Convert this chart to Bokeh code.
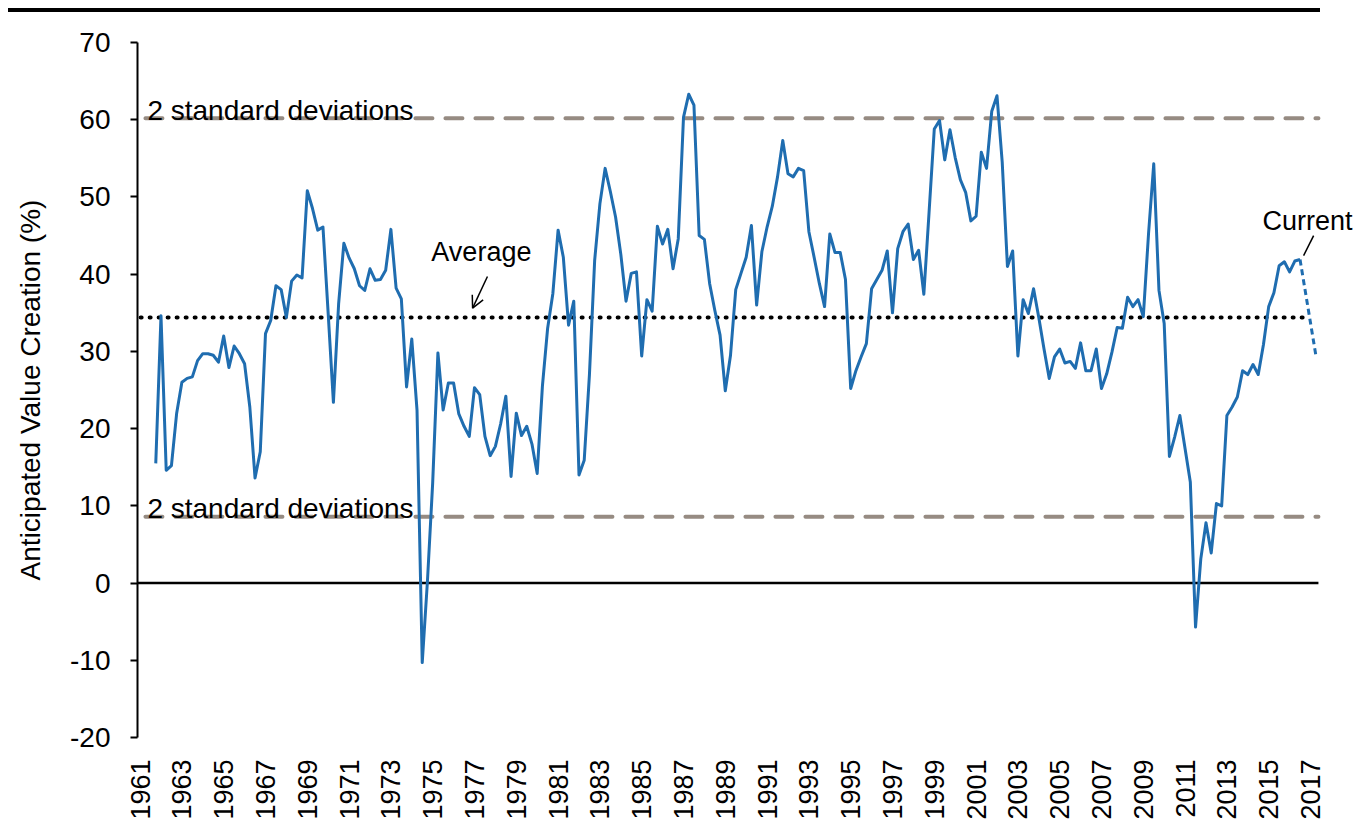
import math
import pandas as pd
from bokeh.plotting import figure
from bokeh.layouts import column, row
from bokeh.models import (Range1d, FixedTicker, Label, Arrow, OpenHead, PrintfTickFormatter,
                          Spacer, Div)
from bokeh.embed import file_html
from bokeh.resources import INLINE

# ---------------- data ----------------
values = [15.5, 34.6, 14.6, 15.2, 22.0, 26.0, 26.5, 26.7, 28.8, 29.7, 29.7, 29.5, 28.6, 32.0, 27.9,
          30.7, 29.7, 28.4, 22.8, 13.6, 17.0, 32.3, 34.0, 38.5, 38.0, 34.4, 39.1, 39.9, 39.5, 50.8,
          48.5, 45.7, 46.1, 34.9, 23.4, 36.2, 44.0, 42.1, 40.7, 38.5, 37.9, 40.7, 39.2, 39.3, 40.5,
          45.8, 38.2, 36.8, 25.4, 31.6, 22.4, -10.3, 0.3, 13.0, 29.8, 22.4, 25.9, 25.9, 21.9, 20.3,
          19.0, 25.3, 24.4, 19.0, 16.5, 17.7, 20.6, 24.2, 13.8, 22.0, 19.1, 20.3, 18.0, 14.2, 25.5,
          33.0, 37.5, 45.7, 42.2, 33.4, 36.5, 14.0, 15.9, 27.0, 41.8, 49.1, 53.7, 50.7, 47.4, 42.6,
          36.5, 40.1, 40.3, 29.4, 36.7, 35.2, 46.2, 43.9, 45.8, 40.7, 44.6, 60.3, 63.3, 61.9, 45.0,
          44.5, 38.8, 35.3, 32.1, 24.9, 29.5, 38.0, 40.1, 42.2, 46.3, 36.0, 42.9, 46.1, 48.8, 52.6,
          57.3, 53.0, 52.6, 53.7, 53.4, 45.5, 42.2, 38.8, 35.8, 45.2, 42.8, 42.8, 39.3, 25.2, 27.5,
          29.3, 31.0, 38.1, 39.3, 40.5, 43.0, 35.0, 43.3, 45.5, 46.5, 41.9, 43.1, 37.4, 48.0, 58.8,
          59.9, 54.8, 58.7, 55.1, 52.2, 50.6, 46.9, 47.5, 55.8, 53.7, 61.1, 63.1, 54.5, 41.0, 43.0,
          29.4, 36.7, 34.9, 38.1, 34.4, 30.3, 26.5, 29.3, 30.3, 28.5, 28.7, 27.8, 31.1, 27.5, 27.5,
          30.3, 25.2, 27.1, 29.9, 33.1, 33.0, 37.0, 35.8, 36.7, 34.5, 45.2, 54.3, 37.9, 33.6, 16.4,
          18.9, 21.7, 17.4, 13.1, -5.7, 3.1, 7.8, 3.9, 10.3, 10.0, 21.7, 22.8, 24.1, 27.5, 27.0,
          28.3, 27.0, 30.9, 35.8, 37.6, 41.1, 41.6, 40.3, 41.7, 41.9]
first_quarter = "1961Q4"
forecast_values = [41.9, 29.6]
forecast_quarters_ahead = 3

average = 34.4
upper_2sd = 60.2
lower_2sd = 8.6

year_ticks = list(range(1961, 2018, 2))
y_ticks = list(range(-20, 71, 10))

# quarterly dates as decimal years
periods = pd.period_range(first_quarter, periods=len(values), freq="Q")
dates = [p.year + (p.quarter - 1) / 4 for p in periods]
fc_dates = [dates[-1], dates[-1] + forecast_quarters_ahead / 4]

FONT = "Liberation Sans"
BLUE = "#1f6db0"
GREY = "#968b82"

X0 = 1960.876                   # x range start (frame left)
X1 = X0 + 1220 / 20.9           # x range end (frame right)
LINE_END = 2017.38              # where the horizontal reference lines stop

# ---------------- top rule ----------------
rule = Div(text="", width=1312, height=4, margin=(0, 0, 0, 0),
           styles={"background-color": "black", "width": "1312px", "height": "4px"})

# ---------------- main chart ----------------
p = figure(width=1357, height=815, toolbar_location=None, output_backend="svg",
           x_range=Range1d(X0, X1), y_range=Range1d(-20, 70),
           min_border_left=137, min_border_right=0, min_border_top=30, min_border_bottom=90)
p.outline_line_color = None
p.grid.visible = False
p.background_fill_color = "white"

# reference lines
p.segment(x0=[X0], x1=[LINE_END], y0=[0], y1=[0], line_color="black", line_width=2.5)
for yv in (upper_2sd, lower_2sd):
    p.segment(x0=[X0 + 0.38], x1=[LINE_END], y0=[yv], y1=[yv], line_color=GREY,
              line_width=4, line_dash="17 13", line_cap="round")
p.segment(x0=[X0 + 0.15], x1=[2016.9], y0=[average], y1=[average], line_color="black",
          line_width=4, line_dash="1 8", line_cap="round")

# data
p.line(dates, values, line_color=BLUE, line_width=3, line_join="round")
p.line(fc_dates, forecast_values, line_color=BLUE, line_width=3, line_dash="6 4")

# annotations
for yv in (61.25, 9.65):
    p.add_layout(Label(x=1961.35, y=yv, text="2 standard deviations", text_font=FONT,
                       text_font_size="28px", text_color="black", text_baseline="alphabetic"))
p.add_layout(Label(x=1977.33, y=42.9, text="Average", text_font=FONT, text_font_size="27px",
                   text_color="black", text_align="center", text_baseline="middle"))
p.add_layout(Arrow(end=OpenHead(size=12, line_width=1.5, line_color="black"),
                   x_start=1977.62, y_start=39.7, x_end=1976.91, y_end=35.6,
                   line_width=1.5, line_color="black"))
p.add_layout(Label(x=2016.86, y=46.9, text="Current", text_font=FONT, text_font_size="27px",
                   text_color="black", text_align="center", text_baseline="middle"))
p.segment(x0=[2017.15], x1=[2016.67], y0=[45.0], y1=[42.4], line_color="black", line_width=1.5)

# axes
xa = p.xaxis[0]
xa.ticker = FixedTicker(ticks=year_ticks)
xa.major_label_orientation = math.pi / 2
xa.axis_line_color = None
xa.major_tick_line_color = None
xa.minor_tick_line_color = None
xa.major_label_text_font = FONT
xa.major_label_text_font_size = "27px"
xa.major_label_text_color = "black"
xa.major_label_standoff = 16

ya = p.yaxis[0]
ya.ticker = FixedTicker(ticks=y_ticks)
ya.formatter = PrintfTickFormatter(format="%d")
ya.bounds = (-20, 70)
ya.axis_line_width = 2
ya.axis_line_color = "black"
ya.major_tick_line_width = 2
ya.major_tick_in = 0
ya.major_tick_out = 7
ya.minor_tick_line_color = None
ya.major_label_text_font = FONT
ya.major_label_text_font_size = "28px"
ya.major_label_text_color = "black"
ya.major_label_standoff = 20
ya.axis_label = "Anticipated Value Creation (%)"
ya.axis_label_text_font = FONT
ya.axis_label_text_font_size = "28px"
ya.axis_label_text_font_style = "normal"
ya.axis_label_text_color = "black"
ya.axis_label_standoff = 21

layout = column(Spacer(height=8), row(Spacer(width=8), rule, spacing=0), p, spacing=0)
open("out.html", "w").write(file_html(layout, INLINE))
